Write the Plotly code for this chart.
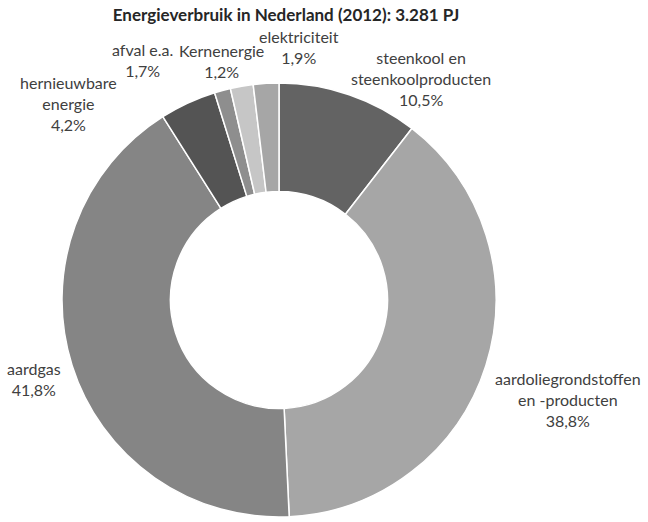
import plotly.graph_objects as go

W, H = 648, 522

# slices, clockwise from 12 o'clock
labels = ['steenkool en steenkoolproducten', 'aardoliegrondstoffen en -producten', 'aardgas',
          'hernieuwbare energie', 'Kernenergie', 'afval e.a.', 'elektriciteit']
values = [10.5, 38.8, 41.8, 4.2, 1.2, 1.7, 1.9]
colors = ['#636363', '#a6a6a6', '#858585', '#545454', '#8e8e8e', '#c6c6c6', '#a6a6a6']

label_texts = ['steenkool en<br>steenkoolproducten<br>10,5%', 'aardoliegrondstoffen<br>en -producten<br>38,8%',
               'aardgas<br>41,8%', 'hernieuwbare<br>energie<br>4,2%', 'Kernenergie<br>1,2%',
               'afval e.a.<br>1,7%', 'elektriciteit<br>1,9%']
# label centre positions in pixels
label_pos = [(421, 78), (568, 399), (34, 379), (68, 103), (221, 61), (142, 60), (299, 47)]


def px(x):
    return x / W


def py(y):
    return 1 - y / H


fig = go.Figure(go.Pie(
    labels=labels, values=values, sort=False, direction='clockwise', rotation=0,
    hole=0.5, textinfo='none', hoverinfo='label+percent',
    marker=dict(colors=colors, line=dict(color='white', width=1.5)),
    domain=dict(x=[px(62), px(496)], y=[py(517), py(83)]),
    showlegend=False,
))

for txt, (x, y) in zip(label_texts, label_pos):
    fig.add_annotation(
        text=txt, x=px(x), y=py(y), xref='paper', yref='paper',
        xanchor='center', yanchor='middle', showarrow=False, align='center',
        font=dict(family='Lato, Open Sans, sans-serif', size=16, color='#404040'),
    )

fig.update_layout(
    width=W, height=H,
    margin=dict(l=0, r=0, t=0, b=0),
    paper_bgcolor='white', plot_bgcolor='white',
    title=dict(text='<b>Energieverbruik in Nederland (2012): 3.281 PJ</b>',
               x=px(286), y=py(15), xanchor='center', yanchor='middle',
               font=dict(family='Lato, Open Sans, sans-serif', size=17, color='#262626')),
)

# drop the default page margin so the figure fills the window exactly
fig.write_html('out.html', config={'displayModeBar': False},
               post_script="document.body.style.margin='0';")
